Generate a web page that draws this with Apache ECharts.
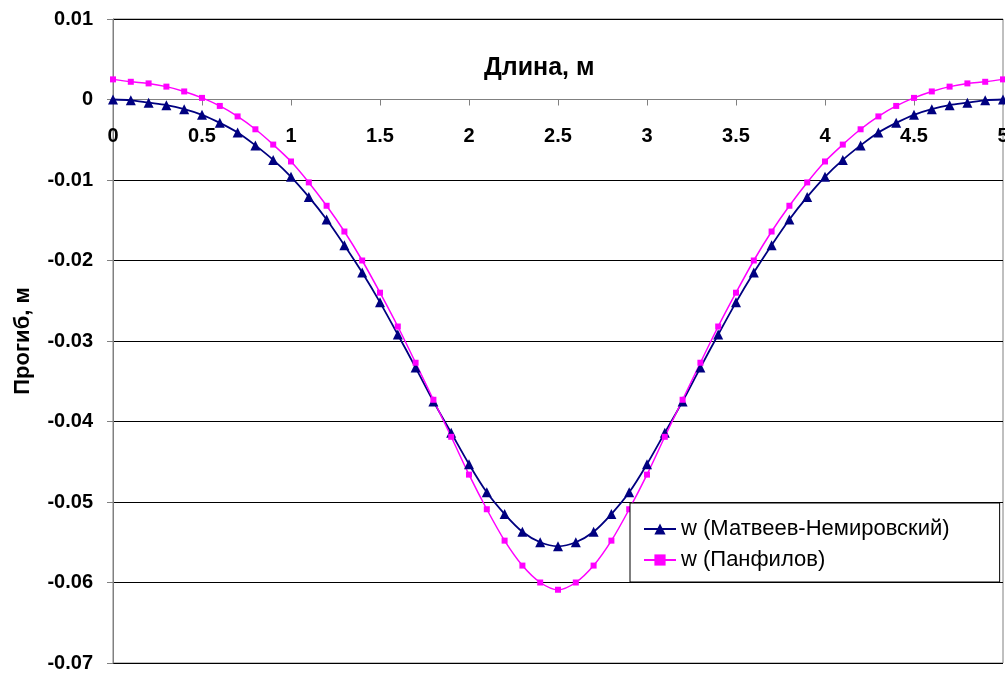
<!DOCTYPE html>
<html>
<head>
<meta charset="utf-8">
<script src="https://cdn.jsdelivr.net/npm/echarts@6/dist/echarts.min.js"></script>
<style>html,body{margin:0;padding:0;background:#fff}#c{width:1005px;height:673px}</style>
</head>
<body>
<div id="c"></div>
<script>
const xValues = [0,0.1,0.2,0.3,0.4,0.5,0.6,0.7,0.8,0.9,1,1.1,1.2,1.3,1.4,1.5,1.6,1.7,1.8,1.9,2,2.1,2.2,2.3,2.4,2.5,2.6,2.7,2.8,2.9,3,3.1,3.2,3.3,3.4,3.5,3.6,3.7,3.8,3.9,4,4.1,4.2,4.3,4.4,4.5,4.6,4.7,4.8,4.9,5];
const wMatveev = [0,-0.0001,-0.0004,-0.0007,-0.0012,-0.0019,-0.0029,-0.0041,-0.0057,-0.0075,-0.0096,-0.0121,-0.0149,-0.0181,-0.0215,-0.0252,-0.0292,-0.0333,-0.0375,-0.0414,-0.0453,-0.0488,-0.0515,-0.0537,-0.0550,-0.0555,-0.0550,-0.0537,-0.0515,-0.0488,-0.0453,-0.0414,-0.0375,-0.0333,-0.0292,-0.0252,-0.0215,-0.0181,-0.0149,-0.0121,-0.0096,-0.0075,-0.0057,-0.0041,-0.0029,-0.0019,-0.0012,-0.0007,-0.0004,-0.0001,0];
const wPanfilov = [0.0025,0.0022,0.0020,0.0016,0.0010,0.0002,-0.0008,-0.0021,-0.0037,-0.0056,-0.0077,-0.0103,-0.0132,-0.0164,-0.0200,-0.0240,-0.0282,-0.0327,-0.0373,-0.0419,-0.0466,-0.0509,-0.0548,-0.0579,-0.0600,-0.0609,-0.0600,-0.0579,-0.0548,-0.0509,-0.0466,-0.0419,-0.0373,-0.0327,-0.0282,-0.0240,-0.0200,-0.0164,-0.0132,-0.0103,-0.0077,-0.0056,-0.0037,-0.0021,-0.0008,0.0002,0.0010,0.0016,0.0020,0.0022,0.0025];
const seriesNames = ['w (Матвеев-Немировский)', 'w (Панфилов)'];
const xTitle = 'Длина, м';
const yTitle = 'Прогиб, м';

const FONT = '"Liberation Sans", Arial, sans-serif';
const chart = echarts.init(document.getElementById('c'), null, {renderer: 'canvas'});
chart.setOption({
  animation: false,
  backgroundColor: '#fff',
  grid: {left: 113, right: 2, top: 19, bottom: 10, show: true, borderColor: '#808080', borderWidth: 1,
    containLabel: false, outerBoundsMode: 'none'},
  graphic: [{
    type: 'text', left: 484, top: 56,
    style: {text: xTitle, font: 'bold 25px ' + FONT, fill: '#000'}
  }],
  legend: {
    orient: 'vertical', left: 630, top: 503,
    backgroundColor: '#fff', borderColor: '#000', borderWidth: 1,
    padding: [15, 50, 11, 13], itemGap: 9, itemWidth: 32, itemHeight: 14,
    textStyle: {fontFamily: FONT, fontSize: 22, color: '#000'},
    data: seriesNames
  },
  xAxis: {
    type: 'value', min: 0, max: 5, interval: 0.5,
    position: 'bottom', offset: -563.5,
    axisLine: {onZero: false, lineStyle: {color: '#808080', width: 1}},
    axisTick: {show: true, length: 6, lineStyle: {color: '#808080'}},
    axisLabel: {fontFamily: FONT, fontWeight: 'bold', fontSize: 20, color: '#000', margin: 27,
      formatter: v => String(Math.round(v * 10) / 10)},
    splitLine: {show: false}
  },
  yAxis: {
    type: 'value', min: -0.07, max: 0.01, interval: 0.01,
    name: yTitle, nameLocation: 'middle', nameGap: 79,
    nameTextStyle: {fontFamily: FONT, fontWeight: 'bold', fontSize: 22, color: '#000'},
    axisLine: {show: true, lineStyle: {color: '#808080', width: 1}},
    axisTick: {show: true, length: 6, lineStyle: {color: '#808080'}},
    axisLabel: {fontFamily: FONT, fontWeight: 'bold', fontSize: 20, color: '#000', margin: 20,
      formatter: v => Math.abs(v) < 1e-9 ? '0' : v.toFixed(2)},
    splitLine: {show: true, lineStyle: {color: '#000', width: 1}}
  },
  series: [
    {
      name: seriesNames[0], type: 'line', smooth: 0.3,
      data: xValues.map((x, i) => [x, wMatveev[i]]),
      symbol: 'triangle', symbolSize: 10,
      itemStyle: {color: '#000080'}, lineStyle: {color: '#000080', width: 1.8}
    },
    {
      name: seriesNames[1], type: 'line', smooth: 0.3,
      data: xValues.map((x, i) => [x, wPanfilov[i]]),
      symbol: 'rect', symbolSize: 6,
      itemStyle: {color: '#FF00FF'}, lineStyle: {color: '#FF00FF', width: 1.5}
    }
  ]
});
</script>
</body>
</html>
